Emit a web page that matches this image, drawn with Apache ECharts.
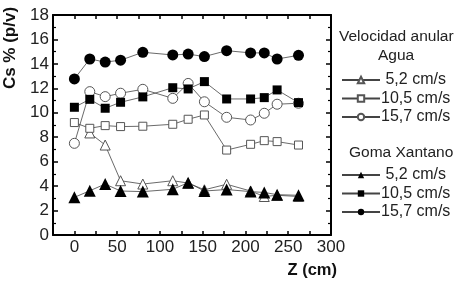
<!DOCTYPE html>
<html>
<head>
<meta charset="utf-8">
<script src="https://cdn.jsdelivr.net/npm/echarts@6/dist/echarts.min.js"></script>
<style>html,body{margin:0;padding:0;background:#fff;}#c{width:467px;height:283px;}</style>
</head>
<body>
<div id="c"></div>
<script>
// Z positions (cm)
var zValues = [0, 18, 36, 54, 80, 115, 133, 152, 178, 206, 222, 237, 262];
// Agua
var agua52  = [null, 8.35, 7.36, 4.44, 4.17, 4.44, 4.25, 3.7, 4.15, 3.6, 3.15, 3.25, 3.15];
var agua105 = [9.2, 8.73, 8.95, 8.87, 8.9, 9.06, 9.47, 9.82, 6.95, 7.42, 7.72, 7.64, 7.36];
var agua157 = [7.5, 11.73, 11.32, 11.6, 11.92, 11.18, 12.4, 10.9, 9.63, 9.41, 9.96, 10.7, 10.78];
// Goma Xantano
var goma52  = [3.08, 3.62, 4.17, 3.6, 3.55, 3.74, 4.28, 3.6, 3.72, 3.55, 3.48, 3.3, 3.25];
var goma105 = [10.45, 11.1, 10.37, 10.86, 11.3, 12.05, 11.95, 12.55, 11.13, 11.13, 11.24, 11.87, 10.83];
var goma157 = [12.77, 14.4, 14.15, 14.3, 14.95, 14.73, 14.8, 14.6, 15.08, 14.9, 14.9, 14.4, 14.7];
var speedLabels = ['5,2 cm/s', '10,5 cm/s', '15,7 cm/s'];
var yTitle = 'Cs % (p/v)';
var xTitle = 'Z (cm)';
var legendTitle1 = 'Velocidad anular';
var legendTitle2 = 'Agua';
var legendTitle3 = 'Goma Xantano';

function pairs(vals) {
  var out = [];
  for (var i = 0; i < zValues.length; i++) out.push([zValues[i], vals[i]]);
  return out;
}
var LINE = '#444';
function ser(name, vals, symbol, size, filled) {
  return {
    name: name, type: 'line', data: pairs(vals),
    symbol: symbol, symbolSize: size, showAllSymbol: true, connectNulls: false,
    lineStyle: { color: LINE, width: 0.8 },
    itemStyle: { color: filled ? '#000' : '#fff', borderColor: filled ? '#000' : '#555', borderWidth: filled ? 0 : 1 },
    emphasis: { disabled: true },
    animation: false
  };
}
var FONT = 'Liberation Sans, Arial, sans-serif';
var axisLine = { show: true, onZero: false, lineStyle: { color: '#000', width: 2 } };

var option = {
  backgroundColor: '#fff',
  animation: false,
  textStyle: { fontFamily: FONT },
  grid: { left: 53, right: 136, top: 15, bottom: 48, containLabel: false },
  xAxis: [{
    type: 'value', min: -25, max: 300, interval: 25,
    axisLine: axisLine,
    axisTick: { show: true, inside: true, length: 4, lineStyle: { color: '#000', width: 1.5 } },
    axisLabel: { color: '#222', fontSize: 17, fontFamily: FONT, margin: 4,
      formatter: function (v) { return (v >= 0 && v % 50 === 0) ? String(v) : ''; } },
    splitLine: { show: false }
  }, {
    type: 'value', position: 'top', min: -25, max: 300, interval: 25,
    axisLine: axisLine,
    axisTick: { show: true, inside: true, length: 4, lineStyle: { color: '#000', width: 1.5 } },
    axisLabel: { show: false }, splitLine: { show: false }
  }],
  yAxis: [{
    type: 'value', min: 0, max: 18, interval: 2,
    axisLine: axisLine,
    axisTick: { show: true, inside: true, length: 5, lineStyle: { color: '#000', width: 1.5 } },
    minorTick: { show: true, splitNumber: 2, length: 3, lineStyle: { color: '#000', width: 1.2 } },
    axisLabel: { color: '#222', fontSize: 17, fontFamily: FONT, margin: 4 },
    splitLine: { show: false }
  }, {
    type: 'value', position: 'right', min: 0, max: 18, interval: 2,
    axisLine: axisLine,
    axisTick: { show: true, inside: true, length: 5, lineStyle: { color: '#000', width: 1.5 } },
    minorTick: { show: true, splitNumber: 2, length: 3, lineStyle: { color: '#000', width: 1.2 } },
    axisLabel: { show: false }, splitLine: { show: false }
  }],
  legend: [{
    data: ['A1', 'A2', 'A3'], orient: 'vertical', left: 336, top: 67,
    itemWidth: 38, itemHeight: 8, itemGap: 2.5,
    formatter: function (n) { return { A1: ' ' + speedLabels[0], A2: speedLabels[1], A3: speedLabels[2] }[n]; },
    textStyle: { fontSize: 16, color: '#222', fontFamily: FONT, padding: [0, 0, 0, -4] },
    selectedMode: false
  }, {
    data: ['G1', 'G2', 'G3'], orient: 'vertical', left: 336, top: 162,
    itemWidth: 38, itemHeight: 8, itemGap: 2.5,
    formatter: function (n) { return { G1: ' ' + speedLabels[0], G2: speedLabels[1], G3: speedLabels[2] }[n]; },
    textStyle: { fontSize: 16, color: '#222', fontFamily: FONT, padding: [0, 0, 0, -4] },
    selectedMode: false
  }],
  graphic: [
    { type: 'text', left: 339, top: 29, style: { text: legendTitle1, fontSize: 15.5, fill: '#222', fontFamily: FONT } },
    { type: 'text', left: 378, top: 48, style: { text: legendTitle2, fontSize: 15.5, fill: '#222', fontFamily: FONT } },
    { type: 'text', left: 349, top: 145, style: { text: legendTitle3, fontSize: 15.5, fill: '#222', fontFamily: FONT } },
    { type: 'text', x: 10, y: 48, rotation: Math.PI / 2,
      style: { text: yTitle, fontSize: 17, fontWeight: 'bold', fill: '#111', fontFamily: FONT, align: 'center', verticalAlign: 'middle' } },
    { type: 'text', right: 130, top: 262, style: { text: xTitle, fontSize: 16.5, fontWeight: 'bold', fill: '#111', fontFamily: FONT } }
  ],
  series: [
    ser('A1', agua52, 'triangle', 10, false),
    ser('A2', agua105, 'rect', 8, false),
    ser('A3', agua157, 'circle', 10, false),
    ser('G1', goma52, 'triangle', 12, true),
    ser('G2', goma105, 'rect', 9, true),
    ser('G3', goma157, 'circle', 11, true)
  ]
};
var chart = echarts.init(document.getElementById('c'), null, { renderer: 'canvas' });
chart.setOption(option);
</script>
</body>
</html>
